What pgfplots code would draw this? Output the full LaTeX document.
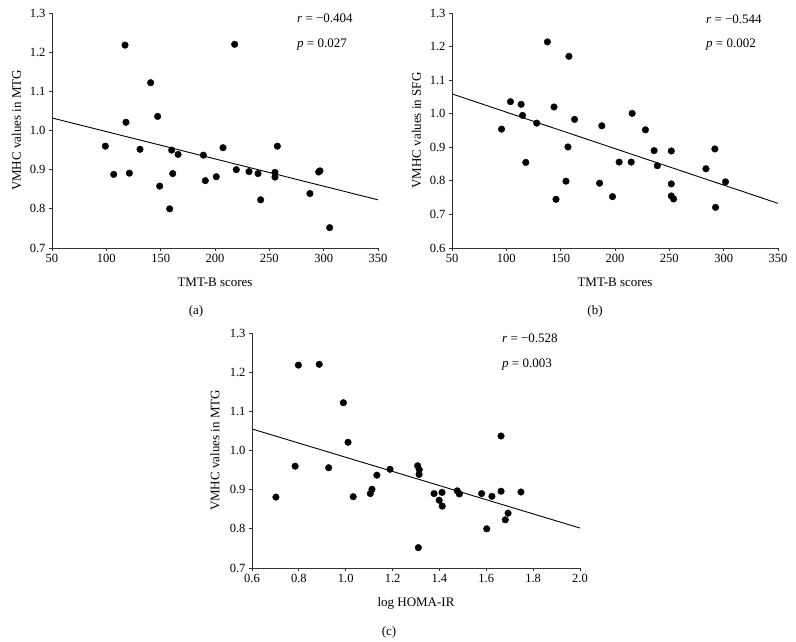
\documentclass[border=0pt]{standalone}
\usepackage{pgfplots}
\pgfplotsset{compat=1.18}
\usepackage{fontspec}
\setmainfont{Liberation Serif}

\pgfplotstableread{
x y
117.2 1.218
218.1 1.220
140.8 1.122
147.2 1.036
118.1 1.021
99.1 0.960
131.0 0.952
160.1 0.950
166.0 0.939
189.3 0.937
207.4 0.956
257.4 0.960
106.8 0.888
121.2 0.891
161.1 0.890
149.1 0.858
191.1 0.872
201.2 0.882
219.6 0.900
231.3 0.895
239.6 0.890
255.2 0.893
255.2 0.881
242.0 0.823
158.3 0.800
287.4 0.839
295.4 0.894
296.6 0.897
305.5 0.752
}\dataA

\pgfplotstableread{
x y
137.8 1.214
157.6 1.171
103.8 1.036
113.6 1.028
114.9 0.995
143.9 1.020
95.6 0.954
128.0 0.972
162.8 0.983
187.9 0.964
215.8 1.001
228.0 0.952
156.7 0.901
117.9 0.855
203.8 0.856
214.9 0.856
236.0 0.890
239.0 0.845
251.8 0.889
154.9 0.799
185.8 0.793
197.7 0.753
145.7 0.745
251.8 0.791
251.8 0.755
253.9 0.746
283.7 0.836
291.9 0.895
301.7 0.797
292.5 0.721
}\dataB

\pgfplotstableread{
x y
0.798 1.218
0.887 1.220
0.990 1.122
1.010 1.021
1.663 1.037
0.784 0.960
0.927 0.956
0.702 0.881
1.032 0.882
1.133 0.937
1.189 0.952
1.307 0.961
1.314 0.951
1.313 0.939
1.105 0.890
1.112 0.901
1.377 0.890
1.411 0.893
1.399 0.873
1.412 0.858
1.476 0.897
1.485 0.889
1.580 0.890
1.624 0.883
1.663 0.896
1.748 0.894
1.693 0.840
1.681 0.823
1.602 0.800
1.310 0.752
}\dataC

\pgfplotsset{
  panel/.style={
    scale only axis,
    width=326pt, height=235pt,
    axis lines=left,
    axis line style={-, line width=0.8pt, black!80},
    tick align=outside,
    major tick length=3pt,
    tick style={line width=0.8pt, black!80},
    every tick label/.append style={font=\fontsize{12.5}{14}\selectfont},
    /pgf/number format/assume math mode=true,
    yticklabel style={/pgf/number format/fixed, /pgf/number format/fixed zerofill, /pgf/number format/precision=1},
    label style={font=\fontsize{13}{15}\selectfont},
    xlabel style={at={(axis description cs:0.5,0)}, anchor=base, yshift=-39pt},
    ylabel style={at={(axis description cs:-0.109,0.5)}, anchor=center},
    anchor=south west,
  },
  dots/.style={only marks, mark=*, mark size=3.3pt, mark options={fill=black, draw=black}},
  fit/.style={black, line width=0.9pt, no marks},
}

\begin{document}
\begin{tikzpicture}
\begin{axis}[panel, at={(52pt,394pt)},
  xmin=50, xmax=350, ymin=0.7, ymax=1.3,
  xtick={50,100,...,350}, ytick={0.7,0.8,...,1.3},
  xlabel={TMT-B scores}, ylabel={VMHC values in MTG}]
\addplot[fit] coordinates {(50,1.032) (350,0.823)};
\addplot[dots] table {\dataA};
\end{axis}

\begin{axis}[panel, at={(452pt,394pt)},
  xmin=50, xmax=350, ymin=0.6, ymax=1.3,
  xtick={50,100,...,350}, ytick={0.6,0.7,...,1.3},
  xlabel={TMT-B scores}, ylabel={VMHC values in SFG}]
\addplot[fit] coordinates {(50,1.059) (350,0.733)};
\addplot[dots] table {\dataB};
\end{axis}

\begin{axis}[panel, at={(252pt,74pt)}, width=328pt,
  xmin=0.6, xmax=2.0, ymin=0.7, ymax=1.3,
  xtick={0.6,0.8,...,2.0}, ytick={0.7,0.8,...,1.3},
  xticklabel style={/pgf/number format/fixed, /pgf/number format/fixed zerofill, /pgf/number format/precision=1},
  ylabel style={at={(axis description cs:-0.113,0.5)}},
  xlabel={log HOMA-IR}, ylabel={VMHC values in MTG}]
\addplot[fit] coordinates {(0.6,1.055) (2.0,0.802)};
\addplot[dots] table {\dataC};
\end{axis}

\begin{scope}[every node/.style={font=\fontsize{13}{15}\selectfont, inner sep=0pt}]
\node[anchor=base west] at (297pt,619pt) {\textit{r} = −0.404};
\node[anchor=base west] at (297pt,594pt) {\textit{p} = 0.027};
\node[anchor=base west] at (706pt,618pt) {\textit{r} = −0.544};
\node[anchor=base west] at (706pt,594pt) {\textit{p} = 0.002};
\node[anchor=base west] at (502pt,299pt) {\textit{r} = −0.528};
\node[anchor=base west] at (502pt,274pt) {\textit{p} = 0.003};
\node at (196pt,331pt) {(a)};
\node at (595pt,331pt) {(b)};
\node at (389pt,10pt) {(c)};
\end{scope}

\pgfresetboundingbox
\path[use as bounding box] (0pt,0pt) rectangle (796pt,642pt);
\end{tikzpicture}
\end{document}
